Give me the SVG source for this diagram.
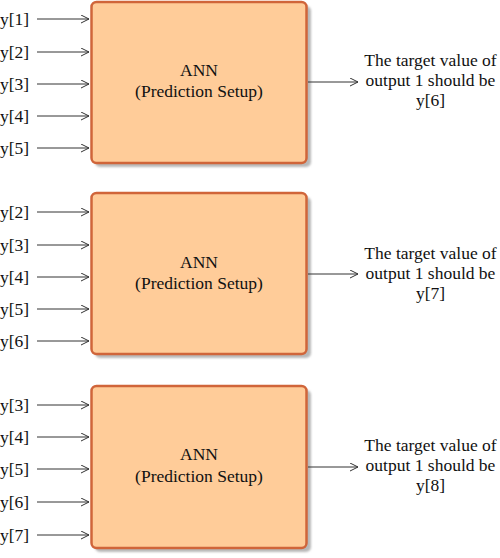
<svg xmlns="http://www.w3.org/2000/svg" width="500" height="558" viewBox="0 0 500 558">
<defs>
<marker id="arr" markerWidth="10" markerHeight="10" refX="8" refY="4" orient="auto" markerUnits="userSpaceOnUse">
<path d="M0,0 L8,4 L0,8" fill="none" stroke="#333" stroke-width="1"/>
</marker>
<filter id="sh" x="-10%" y="-10%" width="130%" height="130%">
<feGaussianBlur stdDeviation="1"/>
</filter>
</defs>
<style>
.box{fill:#FFCC99;stroke:#D0653A;stroke-width:2.5}
.shadow{fill:#B8B8B8;filter:url(#sh)}
.c{text-anchor:middle}
.ln{stroke:#333;stroke-width:1;fill:none;marker-end:url(#arr)}
</style>
<g font-family="'Liberation Serif', 'Times New Roman', serif" font-size="17.5" fill="#111">
<g id="node1">
<rect class="shadow" x="95" y="6" width="216" height="161" rx="5"/>
<rect class="box" x="91.5" y="2" width="215" height="161" rx="5"/>
<text class="c" x="199" y="76">ANN</text>
<text class="c" x="199" y="97">(Prediction Setup)</text>
</g>
<g id="node2">
<rect class="shadow" x="95" y="197" width="216" height="161" rx="5"/>
<rect class="box" x="91.5" y="193" width="215" height="161" rx="5"/>
<text class="c" x="199" y="268">ANN</text>
<text class="c" x="199" y="289">(Prediction Setup)</text>
</g>
<g id="node3">
<rect class="shadow" x="95" y="390" width="216" height="162" rx="5"/>
<rect class="box" x="91.5" y="386" width="215" height="162" rx="5"/>
<text class="c" x="199" y="460">ANN</text>
<text class="c" x="199" y="482">(Prediction Setup)</text>
</g>
<g id="labels">
<text x="0" y="25">y[1]</text>
<text x="0" y="58">y[2]</text>
<text x="0" y="90">y[3]</text>
<text x="0" y="122">y[4]</text>
<text x="0" y="154">y[5]</text>
<text x="0" y="218">y[2]</text>
<text x="0" y="251">y[3]</text>
<text x="0" y="283">y[4]</text>
<text x="0" y="315">y[5]</text>
<text x="0" y="347">y[6]</text>
<text x="0" y="411">y[3]</text>
<text x="0" y="443">y[4]</text>
<text x="0" y="475">y[5]</text>
<text x="0" y="508">y[6]</text>
<text x="0" y="541">y[7]</text>
<text class="c" x="430.5" y="66">The target value of</text>
<text class="c" x="430.5" y="86">output 1 should be</text>
<text class="c" x="430.5" y="106">y[6]</text>
<text class="c" x="430.5" y="259">The target value of</text>
<text class="c" x="430.5" y="279">output 1 should be</text>
<text class="c" x="430.5" y="299">y[7]</text>
<text class="c" x="430.5" y="451">The target value of</text>
<text class="c" x="430.5" y="471">output 1 should be</text>
<text class="c" x="430.5" y="491">y[8]</text>
</g>
</g>
<g id="connectors">
<line class="ln" x1="37" y1="19" x2="89" y2="19"/>
<line class="ln" x1="37" y1="52" x2="89" y2="52"/>
<line class="ln" x1="37" y1="84" x2="89" y2="84"/>
<line class="ln" x1="37" y1="116" x2="89" y2="116"/>
<line class="ln" x1="37" y1="148" x2="89" y2="148"/>
<line class="ln" x1="37" y1="212" x2="89" y2="212"/>
<line class="ln" x1="37" y1="245" x2="89" y2="245"/>
<line class="ln" x1="37" y1="277" x2="89" y2="277"/>
<line class="ln" x1="37" y1="309" x2="89" y2="309"/>
<line class="ln" x1="37" y1="341" x2="89" y2="341"/>
<line class="ln" x1="37" y1="405" x2="89" y2="405"/>
<line class="ln" x1="37" y1="437" x2="89" y2="437"/>
<line class="ln" x1="37" y1="469" x2="89" y2="469"/>
<line class="ln" x1="37" y1="502" x2="89" y2="502"/>
<line class="ln" x1="37" y1="535" x2="89" y2="535"/>
<line class="ln" x1="308" y1="82" x2="358" y2="82"/>
<line class="ln" x1="308" y1="274" x2="358" y2="274"/>
<line class="ln" x1="308" y1="467" x2="358" y2="467"/>
</g>
</svg>
